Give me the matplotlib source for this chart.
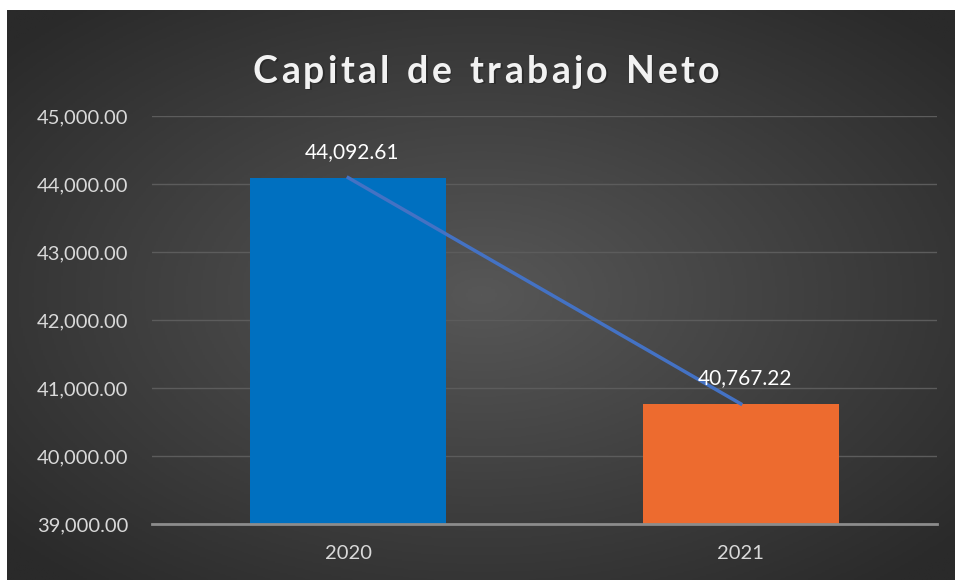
import numpy as np
import matplotlib.pyplot as plt
from matplotlib.colors import LinearSegmentedColormap
from matplotlib.ticker import FuncFormatter

years = ["2020", "2021"]
values = [44092.61, 40767.22]
bar_colors = ["#0070C0", "#ED6B2F"]
yticks = [39000, 40000, 41000, 42000, 43000, 44000, 45000]
title = "Capital de trabajo Neto"

W, H = 955, 580
fig = plt.figure(figsize=(W / 100, H / 100), dpi=100, facecolor="white")

# Dark radial-gradient background
bg = fig.add_axes([7 / W, 0, (W - 7) / W, (H - 10) / H])
yy, xx = np.mgrid[-1:1:300j, -1:1:500j]
r = np.sqrt((xx * 0.9) ** 2 + (yy * 0.9) ** 2)
bg.imshow(r, cmap=LinearSegmentedColormap.from_list("bg", ["#575757", "#2a2a2a"]),
          aspect="auto", extent=[0, 1, 0, 1], vmin=0, vmax=1.2)
bg.set_axis_off()

# Plot area
ax = fig.add_axes([152 / W, 1 - 524 / H, (937 - 152) / W, (524 - 116) / H])
ax.patch.set_alpha(0)
x = np.arange(len(years))
ax.bar(x, values, width=0.5, color=bar_colors, zorder=3)
ax.plot(x, values, color="#4472C4", lw=2.5, zorder=4)

for xi, v in zip(x, values):
    ax.annotate(f"{v:,.2f}", (xi, v), xytext=(3, 11), textcoords="offset points",
                ha="center", va="bottom", color="white", fontsize=15, family="Lato", zorder=5)

ax.set_ylim(39000, 45000)
ax.set_xlim(-0.5, 1.5)
ax.set_yticks(yticks)
ax.yaxis.set_major_formatter(FuncFormatter(lambda v, p: f"{v:,.2f}"))
ax.set_xticks(x)
ax.set_xticklabels(years)
ax.grid(axis="y", color="#5c5c5c", lw=1, zorder=0)
ax.tick_params(length=0, colors="#d9d9d9", labelsize=14.5)
ax.tick_params(axis="y", pad=17)
ax.tick_params(axis="x", pad=15)
for lab in ax.get_xticklabels() + ax.get_yticklabels():
    lab.set_family("Lato")
for s in ["top", "right", "left"]:
    ax.spines[s].set_visible(False)
ax.spines["bottom"].set_color("#8c8c8c")
ax.spines["bottom"].set_linewidth(2)
ax.spines["bottom"].set_zorder(6)

# Title with letter spacing, drawn char by char
renderer = fig.canvas.get_renderer()
tkw = dict(color="#f2f2f2", fontsize=27, fontweight="bold", family="Lato", va="center", ha="left")
widths = []
for ch in title:
    t = fig.text(0, 0, ch if ch != " " else "n", **tkw)
    w = t.get_window_extent(renderer).width
    widths.append(w * 0.55 if ch == " " else w)
    t.remove()
target = 467
sp = (target - sum(widths)) / (len(title) - 1)
xpos = 486 - target / 2
for ch, w in zip(title, widths):
    if ch != " ":
        fig.text((xpos + 1.5) / W, 1 - 73.5 / H, ch, **dict(tkw, color="#1e1e1e", alpha=0.5))
        fig.text(xpos / W, 1 - 72 / H, ch, **tkw)
    xpos += w + sp

fig.savefig("out.png", dpi=100)
